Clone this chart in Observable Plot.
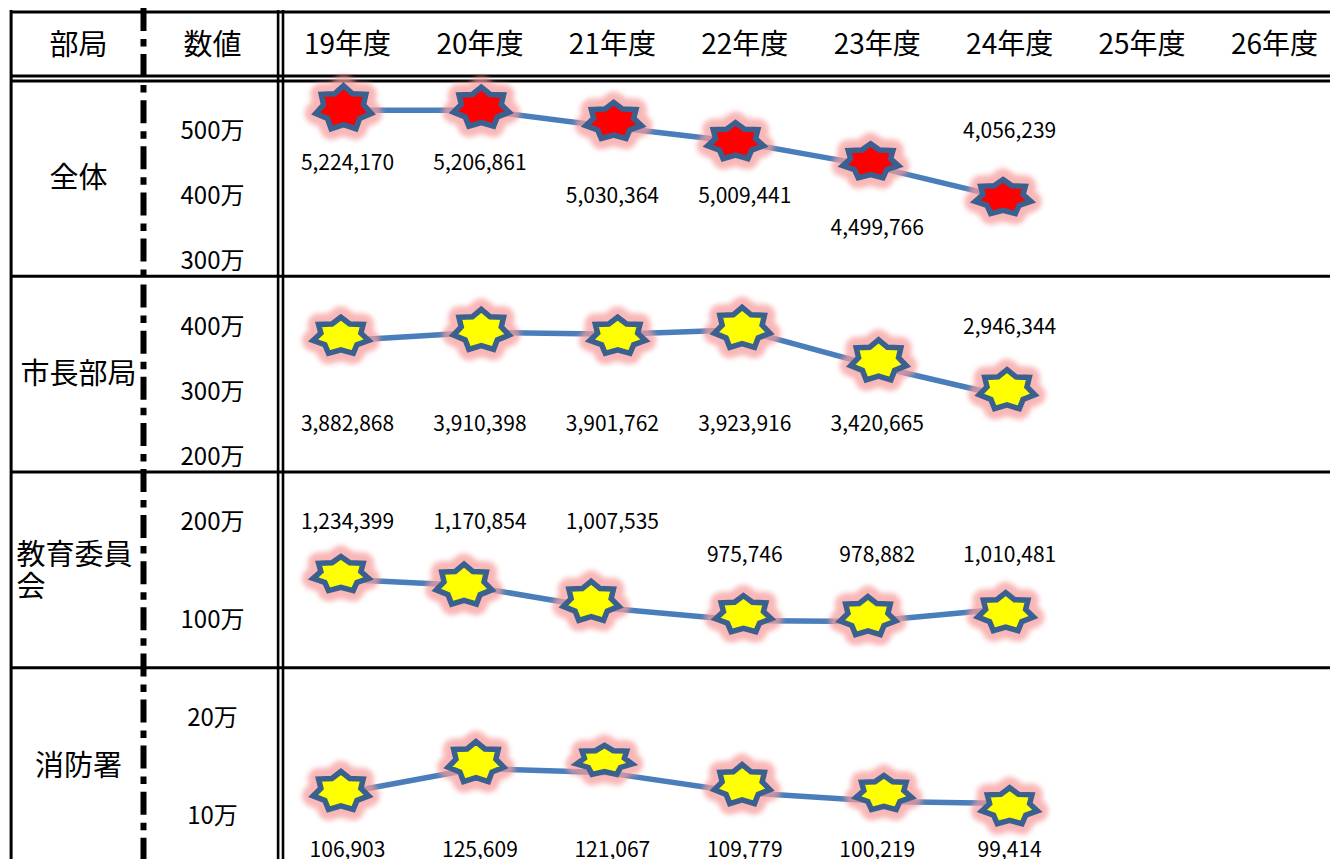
<!DOCTYPE html>
<html lang="ja">
<head>
<meta charset="utf-8">
<script src="https://cdn.jsdelivr.net/npm/d3@7"></script>
<script src="https://cdn.jsdelivr.net/npm/@observablehq/plot@0.6"></script>
<style>
html,body{margin:0;padding:0;background:#fff;overflow:hidden}
#chart{position:relative;width:1330px;height:859px;overflow:hidden}
#chart svg{position:absolute;left:0;top:0;max-width:none}
</style>
</head>
<body>
<div id="chart"></div>
<script>
const years = [19, 20, 21, 22, 23, 24, 25, 26];
const yearLabels = ["19年度","20年度","21年度","22年度","23年度","24年度","25年度","26年度"];
const seriesYears = [19, 20, 21, 22, 23, 24];

// reported values (printed labels)
const allValues  = [5224170, 5206861, 5030364, 5009441, 4499766, 4056239];
const mayorValues = [3882868, 3910398, 3901762, 3923916, 3420665, 2946344];
const eduValues  = [1234399, 1170854, 1007535, 975746, 978882, 1010481];
const fireValues = [106903, 125609, 121067, 109779, 100219, 99414];

// marker position read on each row's axis (万), and on the year axis
const allMarks  = [534, 535, 514, 483, 452, 397];
const mayorMarks = [385, 394, 385, 397, 347, 302];
const eduMarks  = [146, 135, 118, 105, 103, 107];
const fireMarks = [12.45, 15.4, 15.6, 13.1, 12.25, 10.9];
const allMarkYears  = [18.97, 20.01, 21.01, 21.93, 22.95, 23.95];
const mayorMarkYears = [18.95, 20.01, 21.04, 21.98, 23.01, 23.98];
const eduMarkYears  = [18.95, 19.88, 20.84, 21.99, 22.93, 23.97];
const fireMarkYears = [18.95, 19.97, 20.94, 21.98, 23.05, 24.00];

// the connecting line, read on the same axis (万)
const allLine  = [531, 531, 505, 483, 446, 397];
const mayorLine = [378, 391, 388, 395, 338, 292];
const eduLine  = [141, 135, 113, 99, 98, 111];
const fireLine = [12.24, 14.8, 14.4, 12.35, 11.43, 11.22];

// height at which each printed value sits, on the row's axis (万)
const allLabelLevels  = [450, 450, 400, 400, 350, 500];
const mayorLabelLevels = [250, 250, 250, 250, 250, 400];
const eduLabelLevels  = [200, 200, 200, 166, 166, 166];
const fireLabelLevels = [6.5, 6.5, 6.5, 6.5, 6.5, 6.5];

const allTicks = [500, 400, 300];
const mayorTicks = [400, 300, 200];
const eduTicks = [200, 100];
const fireTicks = [20, 10];

const font = '"Noto Sans CJK JP","Noto Sans",sans-serif';
const W = 1330, H = 859;
const xScale = {domain: [19, 26], range: [347, 1274], axis: null};
const base = {width: W, height: H, margin: 0, style: {background: "transparent", fontFamily: font, color: "#000"}};

// seven-pointed flattened star, drawn at the overall height it has in the picture
const star = h => ({
  draw(ctx) {
    const rx = 28.5, ry = (h - 4) / 1.9, k = 0.72, n = 7;
    for (let i = 0; i < 2 * n; i++) {
      const a = i * Math.PI / n, f = i % 2 ? k : 1;
      const px = Math.sin(a) * rx * f, py = -Math.cos(a) * ry * f;
      i ? ctx.lineTo(px, py) : ctx.moveTo(px, py);
    }
    ctx.closePath();
  }
});
const allStarShape   = [47, 43, 40, 40, 38, 38];
const mayorStarShape = [40, 44, 40, 44, 44, 43];
const eduStarShape   = [38, 44, 43, 40, 42, 42];
const fireStarShape  = [42, 44, 33, 43, 38, 40];

// table scaffold
const identity = {x: {type: "identity", axis: null}, y: {type: "identity", axis: null}};
const hRules = [11.5, 75.5, 80.5, 275.8, 471.5, 667.3];
const grid = Plot.plot({
  ...base, ...identity,
  marks: [
    Plot.ruleY(hRules, {x1: 10, x2: W, y: d => d, stroke: "#000", strokeWidth: 3}),
    Plot.ruleX([10.6], {x: d => d, y1: 10, y2: H, stroke: "#000", strokeWidth: 3}),
    Plot.ruleX([277.6, 282.5], {x: d => d, y1: 10, y2: H, stroke: "#000", strokeWidth: 2.6}),
    Plot.ruleX([143], {x: d => d, y1: 8, y2: H, stroke: "#000", strokeWidth: 6,
      strokeDasharray: "23,8,7.5,7.6", strokeLinecap: "butt"}),
    Plot.text(["部局"], {x: [78], y: [45], fontSize: 29, fill: "#000"}),
    Plot.text(["数値"], {x: [212], y: [45], fontSize: 29, fill: "#000"}),
    Plot.text(["全体"], {x: [78], y: [178], fontSize: 29, fill: "#000"}),
    Plot.text(["市長部局"], {x: [78], y: [374], fontSize: 29, fill: "#000"}),
    Plot.text(["教育委員"], {x: [16], y: [555], fontSize: 29, textAnchor: "start", fill: "#000"}),
    Plot.text(["会"], {x: [16], y: [587], fontSize: 29, textAnchor: "start", fill: "#000"}),
    Plot.text(["消防署"], {x: [78], y: [766], fontSize: 29, fill: "#000"})
  ]
});

const header = Plot.plot({
  ...base, x: xScale, y: {type: "identity", axis: null},
  marks: [
    Plot.text(years, {x: d => d, y: () => 45, text: (d, i) => yearLabels[i], fontSize: 28, fill: "#000"})
  ]
});

function row(values, marks, markYears, lineVals, levels, ticks, yDomain, yRange, color, shape) {
  const pts = markYears.map((x, i) => ({x, y: marks[i], h: shape[i]}));
  const linePts = markYears.map((x, i) => ({x, y: lineVals[i]}));
  const labs = seriesYears.map((x, i) => ({x, y: levels[i], v: values[i]}));
  return Plot.plot({
    ...base, x: xScale, y: {domain: yDomain, range: yRange},
    marks: [
      Plot.axisY(ticks, {anchor: "left", tickSize: 0, tickPadding: 0, dx: 212, dy: 1, textAnchor: "middle",
        fontSize: 24, tickFormat: d => d + "万", label: null, fill: "#000"}),
      Plot.line(linePts, {x: "x", y: "y", stroke: "#4a7ebb", strokeWidth: 5.5}),
      ...pts.map(p => Plot.dot([p], {x: "x", y: "y", symbol: star(p.h), r: 10, fill: "#f79c9c", stroke: "#f79c9c",
        strokeWidth: 22, strokeLinejoin: "round", opacity: 0.72, imageFilter: "blur(2.5px)"})),
      ...pts.map(p => Plot.dot([p], {x: "x", y: "y", symbol: star(p.h), r: 10, fill: color, stroke: "#39608f",
        strokeWidth: 5.5, strokeLinejoin: "miter"})),
      Plot.text(labs, {x: "x", y: "y", dy: 0.5, text: d => d3.format(",")(d.v), fontSize: 21, fill: "#000"})
    ]
  });
}

const rows = [
  row(allValues, allMarks, allMarkYears, allLine, allLabelLevels, allTicks, [500, 300], [130, 260], "#ff0000", allStarShape),
  row(mayorValues, mayorMarks, mayorMarkYears, mayorLine, mayorLabelLevels, mayorTicks, [400, 200], [326, 456], "#ffff00", mayorStarShape),
  row(eduValues, eduMarks, eduMarkYears, eduLine, eduLabelLevels, eduTicks, [200, 100], [521, 619], "#ffff00", eduStarShape),
  row(fireValues, fireMarks, fireMarkYears, fireLine, fireLabelLevels, fireTicks, [20, 10], [717, 815], "#ffff00", fireStarShape)
];

const root = document.getElementById("chart");
[grid, header, ...rows].forEach(p => root.appendChild(p));
</script>
</body>
</html>
